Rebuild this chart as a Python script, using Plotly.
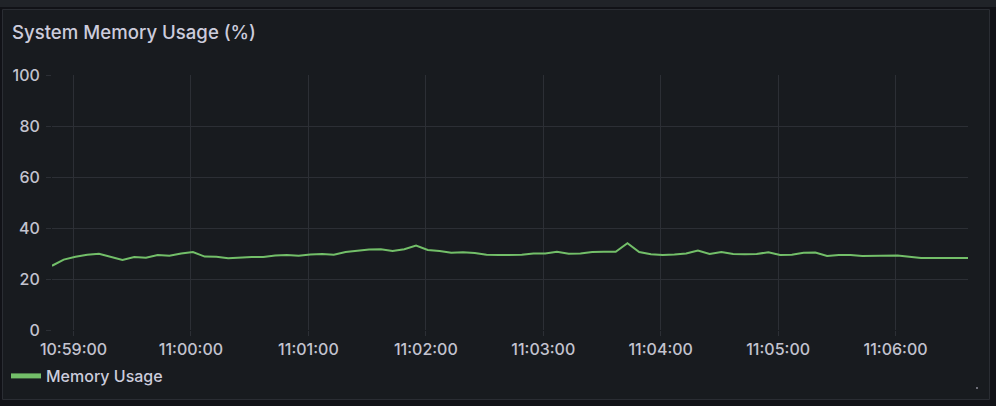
import plotly.graph_objects as go
import pandas as pd

# ---- data ----
start_time = "2024-01-01 10:58:49"
step_seconds = 6
memory_usage = [
    25.2, 27.6, 28.7, 29.5, 29.9, 28.7, 27.5, 28.6, 28.3, 29.4,
    29.1, 30.0, 30.6, 28.8, 28.7, 28.1, 28.5, 28.6, 28.6, 29.2,
    29.4, 29.1, 29.6, 29.8, 29.5, 30.6, 31.1, 31.6, 31.7, 31.0,
    31.7, 33.1, 31.4, 31.0, 30.3, 30.5, 30.2, 29.5, 29.4, 29.4,
    29.5, 30.0, 30.0, 30.7, 29.9, 30.0, 30.6, 30.7, 30.7, 34.0,
    30.6, 29.7, 29.4, 29.6, 30.0, 31.2, 29.8, 30.6, 29.8, 29.7,
    29.8, 30.5, 29.4, 29.5, 30.3, 30.4, 29.0, 29.4, 29.4, 29.0,
    29.0, 29.2, 29.2, 28.7, 28.2, 28.2, 28.2, 28.2, 28.2,
]
times = pd.date_range(start=start_time, periods=len(memory_usage), freq=f"{step_seconds}s")
series_name = "Memory Usage"
title_text = "System Memory Usage (%)"
y_ticks = [0, 20, 40, 60, 80, 100]

# ---- style ----
W, H = 996, 406
OUTER_BG = "#111217"
PANEL_BG = "#181b1f"
PANEL_BORDER = "#2a2d33"
GRID = "#2c2f35"
GREEN = "#73bf69"
TEXT = "#ccccdc"
TICK_TEXT = "#c3c3cf"
FONT = "Inter"

fig = go.Figure()
fig.add_trace(go.Scatter(
    x=times, y=memory_usage, mode="lines", name=series_name,
    line=dict(color=GREEN, width=2), showlegend=False,
    hoverinfo="skip",
))
# legend-only entry with a thicker swatch
fig.add_trace(go.Scatter(
    x=[None], y=[None], mode="lines", name=series_name,
    line=dict(color=GREEN, width=5), showlegend=True,
))

ml, mr, mt, mb = 52, 28, 75, 76
pw, ph = W - ml - mr, H - mt - mb

def cx(p):
    return (p - ml) / pw

def cy(p):
    return (H - mb - p) / ph

shapes = [
    dict(type="rect", xref="paper", yref="paper", x0=cx(0), x1=cx(W), y0=cy(7), y1=cy(0),
         fillcolor="#202328", line=dict(width=0), layer="below"),
    dict(type="rect", xref="paper", yref="paper", x0=cx(2.5), x1=cx(989.5),
         y0=cy(399.5), y1=cy(9.5), fillcolor=PANEL_BG,
         line=dict(color=PANEL_BORDER, width=1), layer="below"),
    # small resize handle dot
    dict(type="rect", xref="paper", yref="paper", x0=cx(976), x1=cx(978),
         y0=cy(389), y1=cy(387), fillcolor="#6e6e78", line=dict(width=0), layer="below"),
]

fig.update_layout(
    width=W, height=H,
    margin=dict(l=ml, r=mr, t=mt, b=mb, pad=0, autoexpand=False),
    paper_bgcolor=OUTER_BG,
    plot_bgcolor=PANEL_BG,
    font=dict(family=FONT, color=TICK_TEXT, size=16),
    shapes=shapes,
    title=dict(text=title_text, x=12 / W, xref="container", xanchor="left",
               y=1 - 32 / H, yref="container", yanchor="middle",
               font=dict(family=FONT, size=18.6, color=TEXT, weight=500)),
    showlegend=True,
    legend=dict(orientation="h", xref="container", yref="container",
                x=6 / W, xanchor="left", y=1 - 376 / H, yanchor="middle",
                font=dict(family=FONT, size=16, color=TEXT, weight=500),
                bgcolor="rgba(0,0,0,0)", itemwidth=30),
    hovermode=False,
)

fig.update_xaxes(
    type="date",
    range=[times[0], times[-1]],
    tickformat="%H:%M:%S",
    dtick=60000,
    tick0="2024-01-01 10:59:00",
    showgrid=True, gridcolor=GRID, gridwidth=1,
    ticks="outside", ticklen=5, tickcolor=GRID,
    showline=False, zeroline=False, automargin=False,
    tickfont=dict(family=FONT, size=16, color=TICK_TEXT, weight=500),
)
fig.update_yaxes(
    range=[0, 100],
    tickvals=y_ticks,
    showgrid=True, gridcolor=GRID, gridwidth=1,
    ticks="outside", ticklen=5, tickcolor=GRID,
    showline=False, zeroline=False, automargin=False,
    tickfont=dict(family=FONT, size=16, color=TICK_TEXT, weight=500),
    ticklabelstandoff=3,
)

fig.write_html(
    "out.html",
    config={"displayModeBar": False},
    post_script="document.body.style.margin='0';document.body.style.background='#111217';",
)
